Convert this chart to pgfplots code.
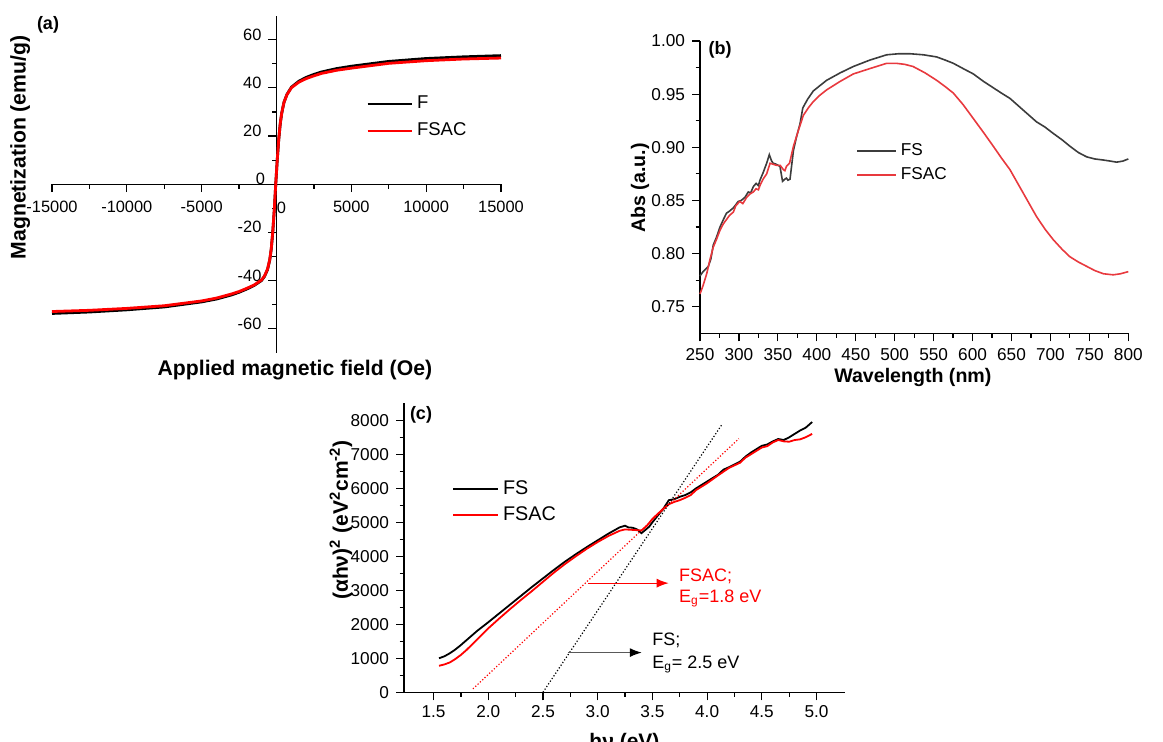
\documentclass[border=0pt]{standalone}
\usepackage{fontspec}
\setmainfont{Liberation Sans}
\usepackage{pgfplots}
\pgfplotsset{compat=1.18}
\usetikzlibrary{arrows.meta}
\definecolor{fsgray}{HTML}{3C3C3C}
\definecolor{fsred}{HTML}{E8393E}
\pgfplotsset{
  base/.style={
    scale only axis,
    /pgf/number format/assume math mode=true,
    /pgf/number format/1000 sep={},
    scaled ticks=false,
    major tick length=4pt,
    minor tick length=2.2pt,
    every tick/.style={line width=0.6pt,black},
    legend cell align=left,
    clip=false,
  }
}
\begin{document}
\begin{tikzpicture}
\useasboundingbox (0pt,0pt) rectangle (581.5pt,371pt);
\clip (0pt,0pt) rectangle (581.5pt,371pt);

% ---------------- (a) ----------------
\begin{axis}[base,
  at={(26pt,194.65pt)}, anchor=south west,
  width=224.5pt, height=168.5pt,
  axis lines=middle,
  axis line style={line width=0.6pt,-},
  xtick align=outside, ytick align=outside,
  xmin=-15000, xmax=15000, ymin=-70, ymax=70,
  xtick={-15000,-10000,-5000,0,5000,10000,15000},
  ytick={-60,-40,-20,0,20,40,60},
  minor x tick num=1, minor y tick num=1,
  tick label style={font=\fontsize{8.2}{9}\selectfont},
  xticklabel style={yshift=-1pt},
  yticklabel style={yshift=2.5pt},
  every axis x label/.style={at={(axis description cs:0.541,-0.051)},anchor=center,font=\bfseries\fontsize{10.6}{12}\selectfont},
  every axis y label/.style={at={(axis description cs:-0.071,0.609)},anchor=center,rotate=90,font=\bfseries\fontsize{10.6}{12}\selectfont},
  xlabel={Applied magnetic field (Oe)},
  ylabel={Magnetization (emu/g)},
  legend style={at={(axis description cs:0.699,0.774)},anchor=north west,draw=none,fill=none,
    font=\fontsize{9.25}{11}\selectfont,row sep=1.5pt,inner sep=0pt},
  legend image code/.code={\draw[#1] (0pt,0pt) -- (22pt,0pt);},
]
\addplot[black,line width=1.4pt] coordinates {
(-15000,-53.7) (-12500,-53.1) (-10000,-52.2) (-7500,-51.0) (-5000,-48.9)
(-4000,-47.7) (-3000,-46.0) (-2500,-44.9) (-2000,-43.6) (-1500,-42.1)
(-1000,-40.0) (-800,-38.3) (-600,-35.5) (-450,-31.5) (-350,-27.0)
(-250,-20.0) (-150,-11.0) (-50,0) (50,10) (150,18.5) (250,25)
(350,29.5) (500,34) (700,37.3) (1000,40.3) (1500,42.8) (2000,44.4)
(2500,45.6) (3000,46.6) (4000,48.0) (5000,49.0) (7500,51.0)
(10000,52.2) (12500,52.9) (15000,53.4)
};
\addlegendentry{F}
\addplot[red,line width=1.4pt] coordinates {
(-15000,-52.9) (-12500,-52.4) (-10000,-51.6) (-7500,-50.5) (-5000,-48.5)
(-4000,-47.3) (-3000,-45.6) (-2500,-44.6) (-2000,-43.3) (-1500,-41.9)
(-1000,-39.8) (-800,-38.1) (-600,-35.3) (-450,-31.3) (-350,-26.8)
(-250,-19.8) (-150,-10.8) (-50,0.2) (50,10.2) (150,18.7) (250,25.2)
(350,29.6) (500,34) (700,37.2) (1000,40.1) (1500,42.4) (2000,43.9)
(2500,45.0) (3000,46.0) (4000,47.3) (5000,48.2) (7500,50.2)
(10000,51.3) (12500,52.0) (15000,52.4)
};
\addlegendentry{FSAC}
\node[font=\fontsize{8.2}{9}\selectfont] at (axis cs:330,-9.7) {0};
\node[font=\fontsize{8.2}{9}\selectfont] at (axis cs:-1069,2.4) {0};
\end{axis}

% ---------------- (b) ----------------
\begin{axis}[base,
  at={(350pt,204.35pt)}, anchor=south west,
  width=214.15pt, height=146.15pt,
  axis lines=left,
  axis line style={line width=0.6pt,-},
  tick align=outside,
  xmin=250, xmax=800, ymin=0.725, ymax=1.0,
  xtick={250,300,...,800},
  ytick={0.75,0.8,0.85,0.9,0.95,1.0},
  minor x tick num=1, minor y tick num=1,
  tick label style={font=\fontsize{8.6}{10}\selectfont},
  yticklabel style={/pgf/number format/.cd,fixed,zerofill,precision=2},
  every axis x label/.style={at={(axis description cs:0.497,-0.1495)},anchor=center,font=\bfseries\fontsize{9.8}{11}\selectfont},
  every axis y label/.style={at={(axis description cs:-0.140,0.497)},anchor=center,rotate=90,font=\bfseries\fontsize{9.8}{11}\selectfont},
  xlabel={Wavelength (nm)},
  ylabel={Abs (a.u.)},
  legend style={at={(axis description cs:0.364,0.664)},anchor=north west,draw=none,fill=none,
    font=\fontsize{8.6}{10}\selectfont,row sep=0.5pt,inner sep=0pt},
  legend image code/.code={\draw[#1] (0pt,0pt) -- (19.5pt,0pt);},
]
\addplot[fsgray,line width=0.8pt] coordinates {
(250,0.779) (254,0.783) (260.7,0.788) (264,0.795) (267,0.808) (271,0.815)
(275.7,0.825) (280,0.832) (284,0.838) (288,0.840) (292.8,0.843) (296,0.846)
(299,0.849) (303,0.850) (307.8,0.853) (312,0.858) (315,0.857) (318.5,0.863)
(322,0.866) (325,0.864) (327,0.869) (331,0.876) (335.6,0.885) (339,0.893)
(342,0.887) (344,0.885) (348,0.884) (352.7,0.882) (356,0.868) (359,0.870)
(361,0.871) (363,0.869) (365.6,0.870) (370,0.897) (374,0.910) (378.4,0.922)
(382,0.937) (388,0.945) (395.5,0.953) (404,0.958) (412.6,0.963)
(430,0.970) (446.9,0.976) (468,0.982) (489.7,0.987) (505,0.988) (519.6,0.988)
(537,0.987) (553.9,0.985) (565,0.982) (575.3,0.979) (588,0.974) (601,0.969)
(614,0.962) (626.6,0.956) (637,0.951) (648,0.946) (665,0.935) (682,0.924)
(693,0.919) (703.7,0.913) (715,0.907) (725,0.901) (736,0.895) (746.5,0.891)
(757,0.889) (768,0.888) (777,0.887) (785,0.886) (793,0.887) (800,0.889)
};
\addlegendentry{FS}
\addplot[fsred,line width=0.8pt] coordinates {
(250,0.762) (254,0.770) (258.6,0.781) (263,0.795) (267,0.806) (271,0.813)
(275.7,0.822) (280,0.828) (284,0.832) (288,0.836) (292.8,0.839) (296,0.845)
(301,0.849) (305,0.847) (310,0.853) (314,0.856) (318.5,0.858) (322,0.861)
(325,0.860) (327,0.864) (331,0.870) (335.6,0.875) (340,0.885) (344,0.884)
(348.4,0.883) (353,0.883) (357,0.879) (359,0.878) (361,0.882) (365,0.885)
(370,0.901) (376,0.915) (382.7,0.930) (389,0.937) (395.5,0.943) (404,0.949)
(412.6,0.954) (430,0.962) (446.9,0.969) (468,0.974) (489.7,0.979) (502,0.979)
(513,0.978) (523.6,0.976) (539,0.970) (553.9,0.963) (565,0.957) (575.3,0.951)
(588,0.940) (601,0.927) (614,0.914) (626.6,0.901) (637,0.890) (648,0.879)
(665,0.857) (682,0.835) (693,0.823) (703.7,0.813) (715,0.804) (725,0.797)
(736,0.792) (746.5,0.788) (757,0.784) (768,0.781) (780.7,0.780) (790,0.781) (800,0.783)
};
\addlegendentry{FSAC}
\end{axis}

% ---------------- (c) ----------------
\begin{axis}[base,
  at={(202pt,24.85pt)}, anchor=south west,
  width=220.5pt, height=144.5pt,
  axis lines=left,
  axis line style={line width=0.6pt,-},
  tick align=outside,
  xmin=1.23, xmax=5.26, ymin=0, ymax=8500,
  xtick={1.5,2.0,2.5,3.0,3.5,4.0,4.5,5.0},
  ytick={0,1000,...,8000},
  minor x tick num=1, minor y tick num=1,
  tick label style={font=\fontsize{8.6}{10}\selectfont},
  xticklabel style={yshift=1pt,/pgf/number format/.cd,fixed,zerofill,precision=1},
  every axis x label/.style={at={(axis description cs:0.50,-0.117)},anchor=north,font=\bfseries\fontsize{10.5}{12}\selectfont},
  every axis y label/.style={at={(axis description cs:-0.143,0.596)},anchor=center,rotate=90,font=\bfseries\fontsize{10.5}{12}\selectfont},
  xlabel={hν (eV)},
  ylabel={(αhν)\textsuperscript{2} (eV\textsuperscript{2}cm\textsuperscript{-2})},
  legend style={at={(axis description cs:0.1085,0.748)},anchor=north west,draw=none,fill=none,
    font=\fontsize{9.9}{11}\selectfont,row sep=0.5pt,inner sep=0pt},
  legend image code/.code={\draw[#1] (0pt,0pt) -- (22.5pt,0pt);},
]
\addplot[black,line width=0.9pt] coordinates {
(1.55,1000) (1.60,1060) (1.65,1150) (1.70,1260) (1.75,1390) (1.80,1530)
(1.85,1670) (1.90,1810) (2.0,2060) (2.1,2320) (2.2,2580) (2.3,2840)
(2.4,3100) (2.5,3350) (2.6,3600) (2.7,3840) (2.8,4060) (2.9,4270)
(3.0,4470) (3.1,4670) (3.2,4850) (3.25,4900) (3.28,4850) (3.32,4840)
(3.36,4790) (3.40,4680) (3.43,4760) (3.47,4870) (3.5,5000) (3.55,5200)
(3.6,5400) (3.65,5650) (3.70,5680) (3.75,5750) (3.8,5800) (3.85,5880)
(3.9,6000) (4.0,6200) (4.1,6400) (4.15,6550) (4.2,6620) (4.3,6780)
(4.35,6930) (4.4,7050) (4.5,7250) (4.55,7290) (4.6,7380) (4.65,7450)
(4.7,7420) (4.75,7500) (4.8,7600) (4.85,7700) (4.9,7780) (4.96,7950)
};
\addlegendentry{FS}
\addplot[red,line width=0.9pt] coordinates {
(1.55,780) (1.60,820) (1.65,880) (1.70,980) (1.75,1100) (1.80,1240)
(1.85,1400) (1.90,1560) (2.0,1880) (2.1,2170) (2.2,2450) (2.3,2720)
(2.4,2980) (2.5,3250) (2.6,3520) (2.7,3770) (2.8,4000) (2.9,4220)
(3.0,4420) (3.1,4600) (3.2,4750) (3.25,4790) (3.3,4780) (3.35,4770)
(3.4,4760) (3.45,4900) (3.5,5100) (3.55,5250) (3.6,5400) (3.65,5530)
(3.7,5600) (3.75,5650) (3.8,5720) (3.85,5800) (3.9,5950) (4.0,6150)
(4.1,6380) (4.2,6600) (4.3,6750) (4.35,6900) (4.4,7000) (4.5,7200)
(4.55,7240) (4.6,7350) (4.65,7420) (4.7,7380) (4.75,7370) (4.8,7420)
(4.85,7440) (4.9,7500) (4.96,7600)
};
\addlegendentry{FSAC}
\addplot[black,densely dotted,line width=0.6pt,forget plot] coordinates {(2.5,0) (4.14,7900)};
\addplot[red,densely dotted,line width=0.6pt,forget plot] coordinates {(1.86,100) (4.29,7460)};
\draw[red,line width=0.6pt,-{Latex[length=6pt,width=4.5pt]}] (axis cs:2.912,3210) -- (axis cs:3.649,3210);
\draw[black!65,line width=0.6pt,-{Latex[length=6pt,width=4.5pt,color=black]}] (axis cs:2.728,1168) -- (axis cs:3.403,1168);
\node[red,anchor=base west,inner sep=0pt,font=\fontsize{9}{10}\selectfont] at (axis cs:3.741,3260) {FSAC;};
\node[red,anchor=base west,inner sep=0pt,font=\fontsize{9}{10}\selectfont] at (axis cs:3.741,2650) {E\textsubscript{g}=1.8 eV};
\node[black,anchor=base west,inner sep=0pt,font=\fontsize{9}{10}\selectfont] at (axis cs:3.495,1365) {FS;};
\node[black,anchor=base west,inner sep=0pt,font=\fontsize{9}{10}\selectfont] at (axis cs:3.495,707) {E\textsubscript{g}= 2.5 eV};
\end{axis}

% panel labels
\node[font=\bfseries\fontsize{9}{10}\selectfont] at (24pt,358.5pt) {(a)};
\node[font=\bfseries\fontsize{9}{10}\selectfont] at (360pt,346pt) {(b)};
\node[font=\bfseries\fontsize{9}{10}\selectfont] at (210.5pt,163.5pt) {(c)};
\end{tikzpicture}
\end{document}
